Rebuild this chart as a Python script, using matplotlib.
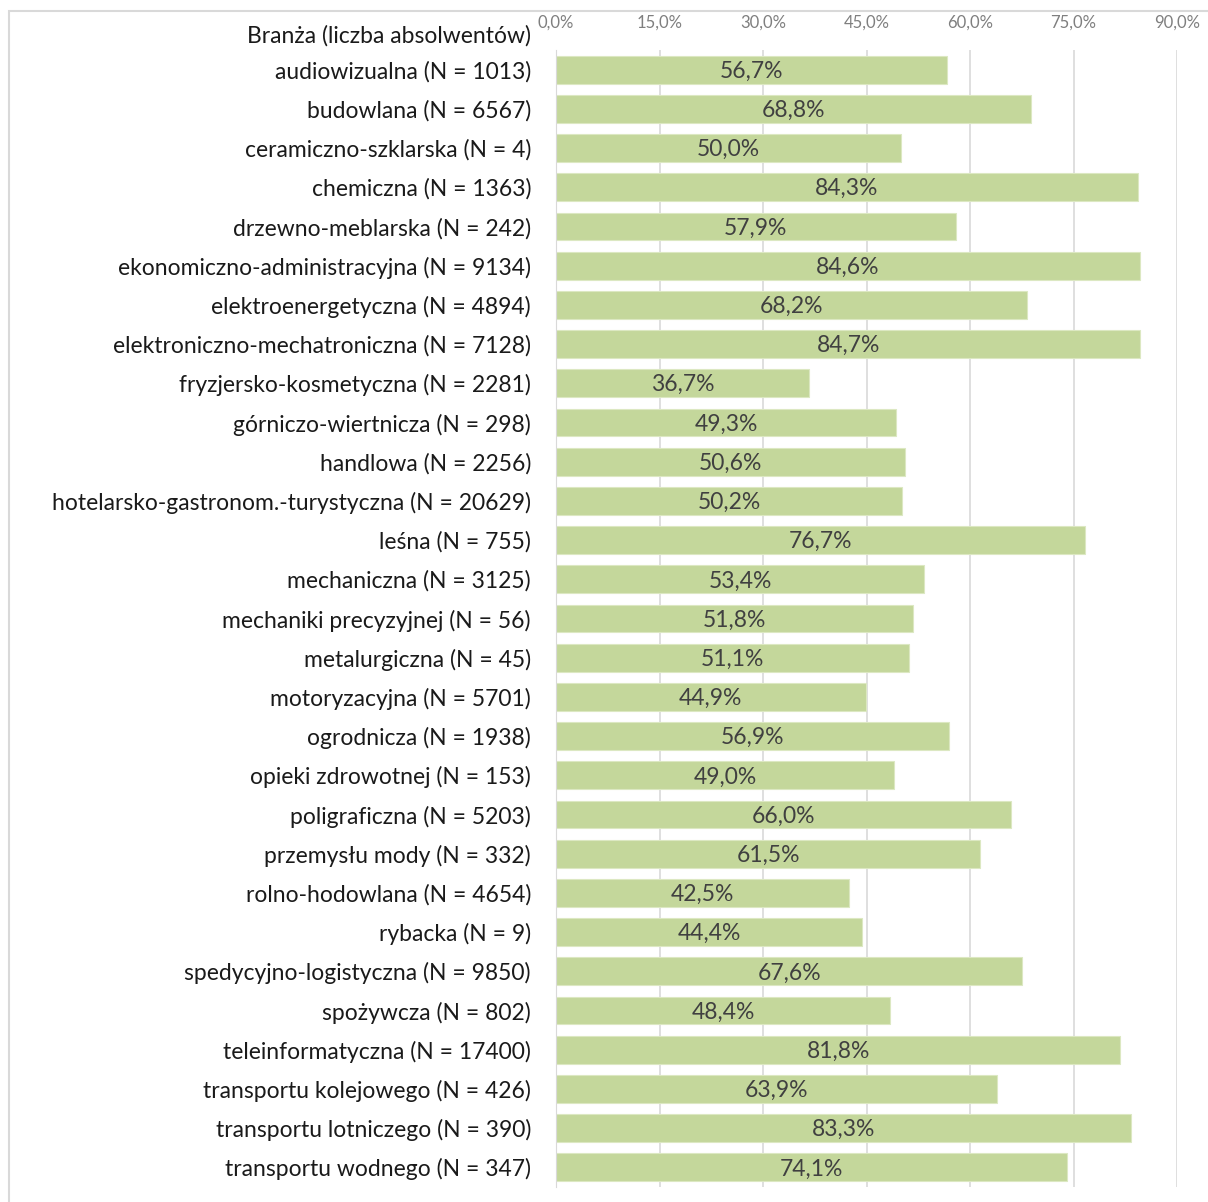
import matplotlib.pyplot as plt
from matplotlib.patches import Rectangle
from matplotlib.ticker import FuncFormatter

plt.rcParams['font.family'] = ['Lato', 'DejaVu Sans']

categories = [
    "audiowizualna (N = 1013)",
    "budowlana (N = 6567)",
    "ceramiczno-szklarska (N = 4)",
    "chemiczna (N = 1363)",
    "drzewno-meblarska (N = 242)",
    "ekonomiczno-administracyjna (N = 9134)",
    "elektroenergetyczna (N = 4894)",
    "elektroniczno-mechatroniczna (N = 7128)",
    "fryzjersko-kosmetyczna (N = 2281)",
    "górniczo-wiertnicza (N = 298)",
    "handlowa (N = 2256)",
    "hotelarsko-gastronom.-turystyczna (N = 20629)",
    "leśna (N = 755)",
    "mechaniczna (N = 3125)",
    "mechaniki precyzyjnej (N = 56)",
    "metalurgiczna (N = 45)",
    "motoryzacyjna (N = 5701)",
    "ogrodnicza (N = 1938)",
    "opieki zdrowotnej (N = 153)",
    "poligraficzna (N = 5203)",
    "przemysłu mody (N = 332)",
    "rolno-hodowlana (N = 4654)",
    "rybacka (N = 9)",
    "spedycyjno-logistyczna (N = 9850)",
    "spożywcza (N = 802)",
    "teleinformatyczna (N = 17400)",
    "transportu kolejowego (N = 426)",
    "transportu lotniczego (N = 390)",
    "transportu wodnego (N = 347)",
]
values = [56.7, 68.8, 50.0, 84.3, 57.9, 84.6, 68.2, 84.7, 36.7, 49.3,
          50.6, 50.2, 76.7, 53.4, 51.8, 51.1, 44.9, 56.9, 49.0, 66.0,
          61.5, 42.5, 44.4, 67.6, 48.4, 81.8, 63.9, 83.3, 74.1]
ticks = [0, 15, 30, 45, 60, 75, 90]
header = "Branża (liczba absolwentów)"

fig = plt.figure(figsize=(12.08, 12.02), dpi=100)
fig.patches.append(Rectangle((9 / 1208, -0.1), 1.2, 1 - 11 / 1202 + 0.1,
                             transform=fig.transFigure, fill=False,
                             edgecolor="#D9D9D9", linewidth=1.5))
ax = fig.add_axes([556 / 1208, 1 - 1187 / 1202, 621 / 1208, 1137 / 1202])

pos = list(range(len(categories)))
ax.barh(pos, values, height=0.71, color="#C4D79B", edgecolor="#DCE8C2",
        linewidth=0.8, zorder=2)
for p, v in zip(pos, values):
    ax.text(v / 2, p + 0.04, f"{v:.1f}%".replace(".", ","), ha="center", va="center",
            fontsize=16.5, color="#404040", zorder=3)

ax.set_ylim(len(categories) - 0.5, -0.5)
ax.set_xlim(0, 90)
ax.set_yticks(pos)
ax.set_yticklabels(categories, fontsize=16.5, color="#1a1a1a")
ax.set_xticks(ticks)
ax.xaxis.set_major_formatter(FuncFormatter(lambda x, _: f"{x:.1f}%".replace(".", ",")))
ax.xaxis.tick_top()
ax.tick_params(axis="x", length=0, labelsize=12, colors="#7f7f7f", pad=14)
ax.tick_params(axis="y", length=0, pad=18)
ax.grid(axis="x", color="#D9D9D9", linewidth=1.2, zorder=0)
for s in ["top", "right", "bottom"]:
    ax.spines[s].set_visible(False)
ax.spines["left"].set_color("#D9D9D9")

fig.text(531 / 1208, 1 - 36 / 1202, header, ha="right", va="center",
         fontsize=16.5, color="#1a1a1a")

fig.savefig("out.png", dpi=100)
